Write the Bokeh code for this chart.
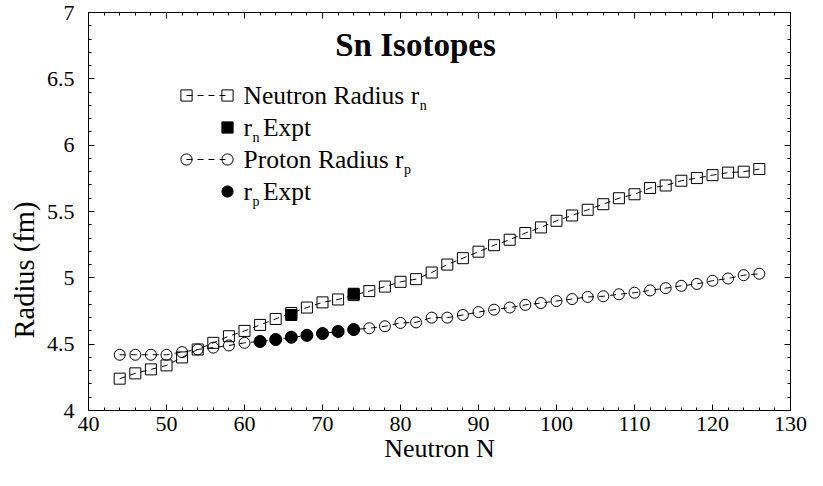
from bokeh.plotting import figure
from bokeh.models import (Range1d, LinearAxis, SingleIntervalTicker, Label, Legend,
                          LegendItem, CustomJSTickFormatter, ColumnDataSource, Title)
from bokeh.core.properties import value
from bokeh.embed import file_html
from bokeh.resources import INLINE

# ---------------- data ----------------
N = list(range(44, 127, 2))
r_n = [4.24, 4.28, 4.31, 4.34, 4.40, 4.46, 4.51, 4.56, 4.60, 4.645,
       4.69, 4.735, 4.776, 4.815, 4.837, 4.87, 4.90, 4.934, 4.97, 4.99,
       5.04, 5.10, 5.148, 5.197, 5.246, 5.287, 5.338, 5.38, 5.43, 5.47,
       5.513, 5.555, 5.60, 5.63, 5.677, 5.696, 5.732, 5.752, 5.774, 5.793,
       5.80, 5.82]
r_p = [4.42, 4.42, 4.42, 4.42, 4.44, 4.46, 4.474, 4.49, 4.51, 4.52,
       4.535, 4.55, 4.565, 4.58, 4.595, 4.61, 4.62, 4.635, 4.66, 4.664,
       4.70, 4.70, 4.72, 4.742, 4.76, 4.776, 4.796, 4.81, 4.825, 4.84,
       4.856, 4.861, 4.876, 4.888, 4.905, 4.922, 4.94, 4.954, 4.978, 4.995,
       5.02, 5.031]
N_n_expt = [66, 74]
r_n_expt = [4.72, 4.88]
N_p_expt = [62, 64, 66, 68, 70, 72, 74]
r_p_expt = [4.52, 4.535, 4.553, 4.567, 4.58, 4.596, 4.61]

title_text = "Sn Isotopes"
x_label = "Neutron N"
y_label = "Radius (fm)"

FONT = "Liberation Serif"

# ---------------- geometry ----------------
W, H = 807, 470
BL, BR, BT, BB = 88, 17, 12, 60
FL, FT = BL, BT
FW, FH = W - BL - BR, H - BT - BB     # frame size
FB = FT + FH

# canvas pixel -> data coordinates
def dx(px):
    return 40 + (px - FL) * 90 / FW
def dy(py):
    return 7 - (py - FT) * 3 / FH
# canvas pixel -> frame-relative screen coords (from bottom-left)
def fx(px):
    return px - FL
def fy(py):
    return FB - py

p = figure(width=W, height=H,
           min_border_left=BL, min_border_right=BR, min_border_top=BT, min_border_bottom=BB,
           x_range=Range1d(40, 130), y_range=Range1d(4, 7),
           output_backend="svg", toolbar_location=None, tools="")
p.background_fill_color = "white"
p.border_fill_color = "white"
p.outline_line_color = "black"
p.xgrid.visible = False
p.ygrid.visible = False

xt = SingleIntervalTicker(interval=10, num_minor_ticks=5)
yt = SingleIntervalTicker(interval=0.5, num_minor_ticks=5)

def style_axis(ax):
    ax.axis_line_color = "black"
    ax.major_tick_line_color = "black"
    ax.minor_tick_line_color = "black"
    ax.major_tick_in = 6
    ax.major_tick_out = 0
    ax.minor_tick_in = 3
    ax.minor_tick_out = 0
    ax.major_label_text_font = FONT
    ax.major_label_text_font_size = "22px"
    ax.major_label_text_color = "black"

xa = p.xaxis[0]
xa.ticker = xt
style_axis(xa)
xa.major_label_standoff = 6
xa.axis_label = x_label
xa.axis_label_text_font = FONT
xa.axis_label_text_font_size = "26px"
xa.axis_label_text_font_style = "normal"
xa.axis_label_text_color = "black"
xa.axis_label_standoff = 0

ya = p.yaxis[0]
ya.ticker = yt
style_axis(ya)
ya.major_label_standoff = 14

for loc, tk in (("above", xt), ("right", yt)):
    ax = LinearAxis(ticker=tk, formatter=CustomJSTickFormatter(code="return ''"))
    style_axis(ax)
    ax.major_label_standoff = 0
    ax.major_label_text_font_size = "0px"
    p.add_layout(ax, loc)

# y-axis title, placed along the left side like the reference (below centre)
p.add_layout(Title(text=y_label, align="left", offset=FB - 338, vertical_align="middle",
                   text_font=FONT, text_font_size="28.5px", text_font_style="normal",
                   text_color="black", standoff=6), "left")

# ---------------- glyphs ----------------
src = ColumnDataSource(dict(N=N, rn=r_n, rp=r_p))
ln = p.line("N", "rn", source=src, line_color="black", line_width=1, line_dash="6 5")
lp = p.line("N", "rp", source=src, line_color="black", line_width=1, line_dash="6 5")
sn = p.scatter("N", "rn", source=src, marker="square", size=11, fill_color=None,
               line_color="black", line_width=1)
sp = p.scatter("N", "rp", source=src, marker="circle", size=11, fill_color=None,
               line_color="black", line_width=1)
en = p.scatter(N_n_expt, r_n_expt, marker="square", size=11, fill_color="black",
               line_color="black")
ep = p.scatter(N_p_expt, r_p_expt, marker="circle", size=12, fill_color="black",
               line_color="black")

# ---------------- legend ----------------
GH, SP = 28, 4
ROW0 = 95
ROWS = [ROW0 + k * (GH + SP) for k in range(4)]
top_first = fy(ROW0) + GH / 2   # frame-relative y of top of first glyph

def make_legend(items, x_left, gw, spacing, nrows):
    h = nrows * GH + (nrows - 1) * spacing
    return Legend(items=items, location=(x_left, top_first - h),
                  glyph_width=gw, glyph_height=GH, spacing=spacing,
                  padding=0, margin=0, label_standoff=0, label_width=1, label_height=GH,
                  label_text_font_size="1px", label_text_alpha=0,
                  background_fill_alpha=0, border_line_alpha=0)

blank = value(" ")
SP2 = 2 * GH + 2 * SP - GH
MX_L, MX_R = 186, 227
L1 = make_legend([LegendItem(label=blank, renderers=[ln]),
                  LegendItem(label=blank, renderers=[lp])],
                 fx(MX_L), MX_R - MX_L, SP2, 2)
L2 = make_legend([LegendItem(label=blank, renderers=[sn]),
                  LegendItem(label=blank, renderers=[sp])],
                 fx(MX_L) - GH / 2, GH, SP2, 2)
L3 = make_legend([LegendItem(label=blank, renderers=[sn]),
                  LegendItem(label=blank, renderers=[en]),
                  LegendItem(label=blank, renderers=[sp]),
                  LegendItem(label=blank, renderers=[ep])],
                 fx(MX_R) - GH / 2, GH, SP, 4)
for lg in (L1, L2, L3):
    p.add_layout(lg)

FS = 25.5
def txt(px, py, s, size=FS, **kw):
    p.add_layout(Label(x=dx(px), y=dy(py), text=s, text_font=FONT,
                       text_font_size=f"{size}px", text_color="black",
                       text_baseline="middle", **kw))

TX = 243
for row, main, sub, em in ((0, "Neutron Radius r", "n", 6.888), (2, "Proton Radius r", "p", 6.278)):
    c = ROWS[row]
    txt(TX, c, main)
    txt(TX + em * FS + 0.5, c + 9.5, sub, size=14)
for row, sub in ((1, "n"), (3, "p")):
    c = ROWS[row]
    txt(TX, c, "r")
    txt(TX + 0.333 * FS + 0.5, c + 9.5, sub, size=14)
    txt(TX + 19.5, c, "Expt")

# title
p.add_layout(Label(x=dx(415), y=dy(44.5), text=title_text, text_font=FONT,
                   text_font_size="33px", text_font_style="bold", text_color="black",
                   text_align="center", text_baseline="middle"))

open("out.html", "w").write(file_html(p, INLINE))
